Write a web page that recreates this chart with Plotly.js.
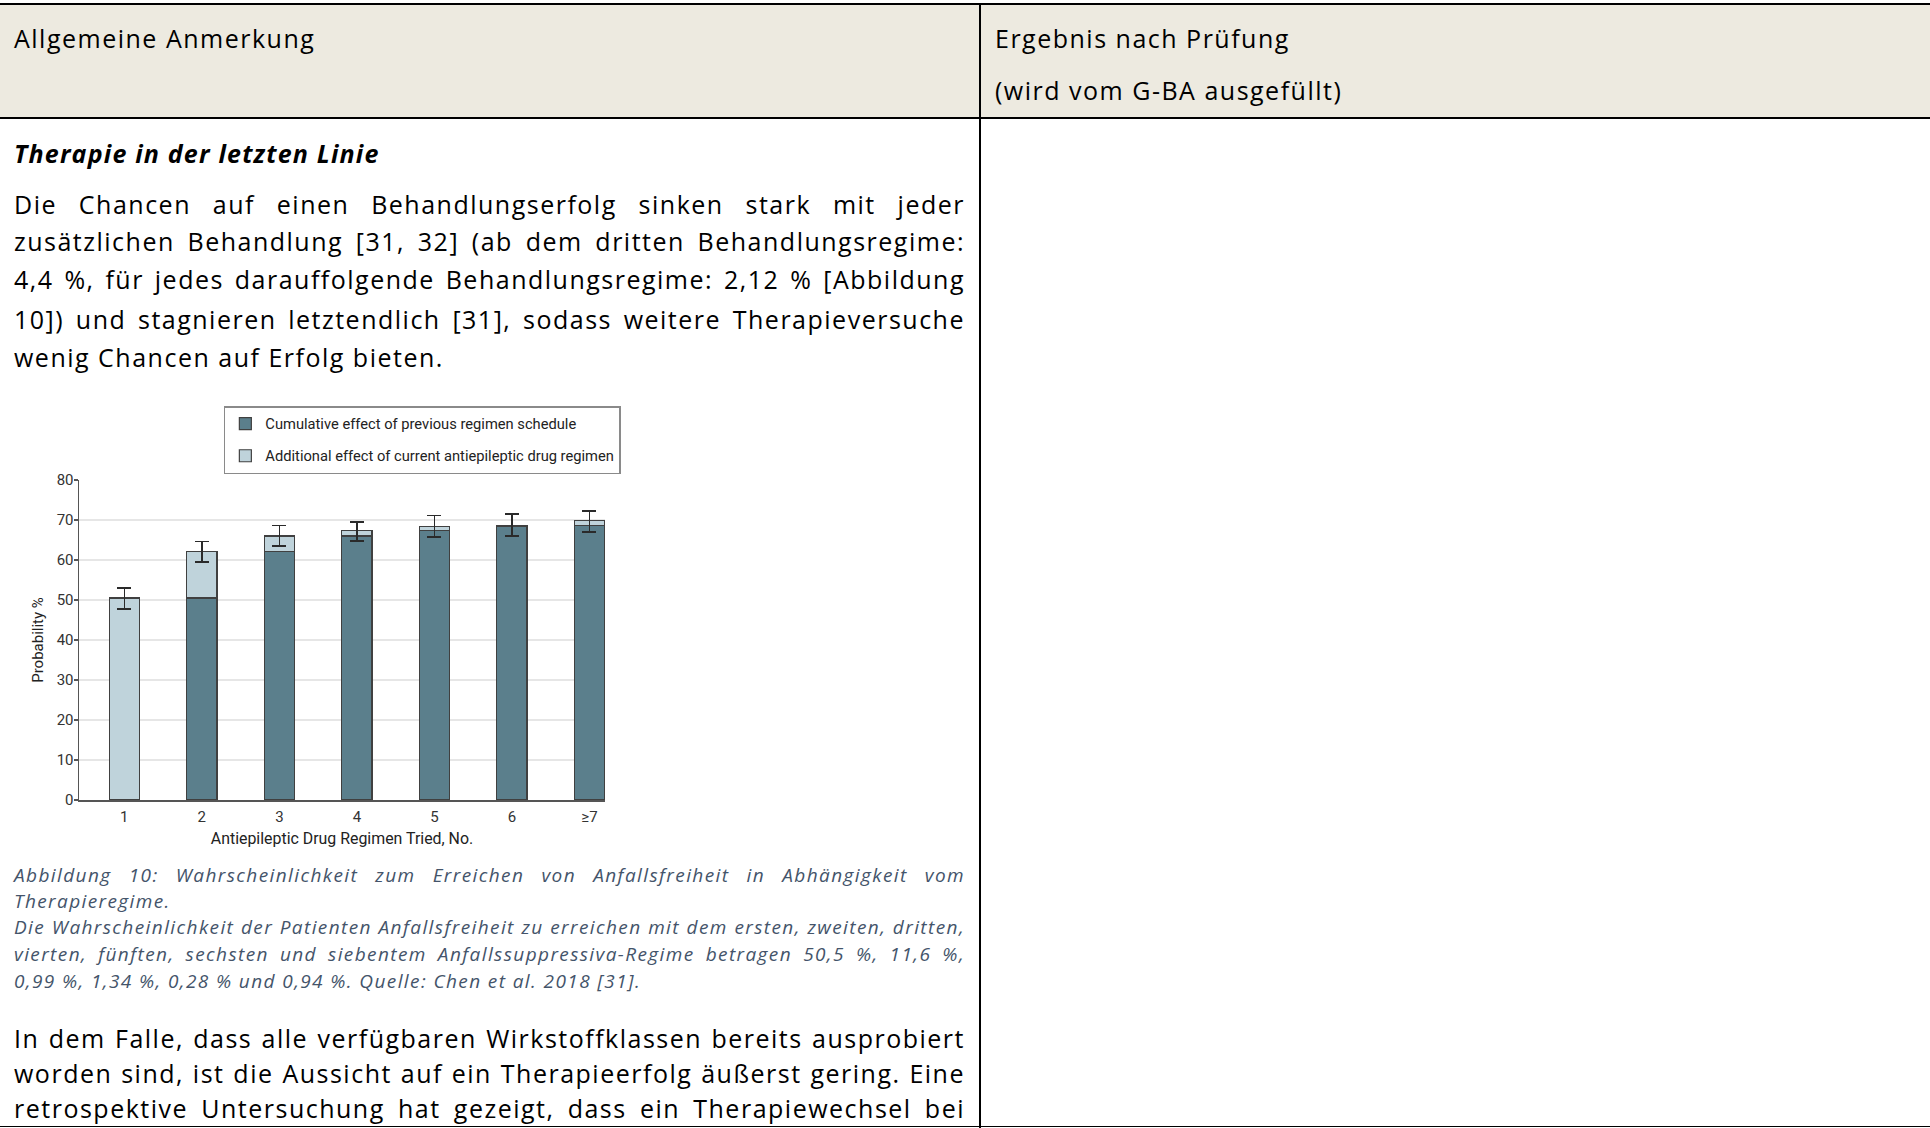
<!DOCTYPE html>
<html>
<head>
<meta charset="utf-8">
<script src="https://cdn.plot.ly/plotly-3.0.1.min.js"></script>
<style>
  html, body { margin:0; padding:0; background:#fff; }
  body { width:1930px; height:1128px; position:relative; overflow:hidden; font-family: 'Open Sans', sans-serif; color:#000; }
  .abs { position:absolute; }
  .hdr { left:0; top:3px; width:1930px; height:116px; background:#edeae0; }
  .line { position:absolute; background:#000; }
  .t { position:absolute; font-size:25px; letter-spacing:1.5px; white-space:nowrap; }
  .j { position:absolute; left:14px; width:951px; text-align:justify; text-align-last:justify; white-space:normal; }
  .l { position:absolute; left:14px; white-space:nowrap; }
  .p { font-size:25px; letter-spacing:1.5px; line-height:38px; height:38px; }
  .cap { font-size:19px; letter-spacing:1.4px; line-height:26px; height:26px; font-style:italic; color:#44546a; }
  #chart { position:absolute; left:0; top:395px; width:640px; height:460px; }
</style>
</head>
<body>
<div class="abs hdr"></div>
<div class="line" style="left:0;top:3px;width:1930px;height:2px;"></div>
<div class="line" style="left:0;top:117px;width:1930px;height:2px;"></div>
<div class="line" style="left:979px;top:3px;width:2px;height:1125px;"></div>
<div class="line" style="left:0;top:1126px;width:1930px;height:1px;"></div>

<div class="t" style="left:14px;top:20px;line-height:36px;">Allgemeine Anmerkung</div>
<div class="t" style="left:995px;top:20px;line-height:36px;">Ergebnis nach Prüfung</div>
<div class="t" style="left:995px;top:72px;line-height:36px;">(wird vom G-BA ausgefüllt)</div>

<div class="t" style="left:14px;top:135px;line-height:36px;font-weight:bold;font-style:italic;letter-spacing:1.2px;">Therapie in der letzten Linie</div>

<div class="j p" style="top:185px;">Die Chancen auf einen Behandlungserfolg sinken stark mit jeder</div>
<div class="j p" style="top:222px;">zusätzlichen Behandlung [31, 32] (ab dem dritten Behandlungsregime:</div>
<div class="j p" style="top:260px;">4,4 %, für jedes darauffolgende Behandlungsregime: 2,12 % [Abbildung</div>
<div class="j p" style="top:300px;">10]) und stagnieren letztendlich [31], sodass weitere Therapieversuche</div>
<div class="l p" style="top:338px;">wenig Chancen auf Erfolg bieten.</div>

<div id="chart"></div>

<div class="j cap" style="top:862px;">Abbildung 10: Wahrscheinlichkeit zum Erreichen von Anfallsfreiheit in Abhängigkeit vom</div>
<div class="l cap" style="top:888px;">Therapieregime.</div>
<div class="j cap" style="top:914px;">Die Wahrscheinlichkeit der Patienten Anfallsfreiheit zu erreichen mit dem ersten, zweiten, dritten,</div>
<div class="j cap" style="top:941px;">vierten, fünften, sechsten und siebentem Anfallssuppressiva-Regime betragen 50,5 %, 11,6 %,</div>
<div class="l cap" style="top:968px;">0,99 %, 1,34 %, 0,28 % und 0,94 %. Quelle: Chen et al. 2018 [31].</div>

<div class="j p" style="top:1019px;">In dem Falle, dass alle verfügbaren Wirkstoffklassen bereits ausprobiert</div>
<div class="j p" style="top:1054px;">worden sind, ist die Aussicht auf ein Therapieerfolg äußerst gering. Eine</div>
<div class="j p" style="top:1089px;">retrospektive Untersuchung hat gezeigt, dass ein Therapiewechsel bei</div>

<script>
const regimens = ["1", "2", "3", "4", "5", "6", "≥7"];
const cumulativePrev = [0, 50.5, 62.1, 66.0, 67.3, 68.3, 68.6];
const additionalCurr = [50.5, 11.6, 3.9, 1.3, 1.0, 0.3, 1.2];
const errPlus = [2.5, 2.5, 2.6, 2.2, 2.8, 2.9, 2.5];
const errMinus = [2.7, 2.6, 2.5, 2.6, 2.6, 2.6, 2.8];
const seriesNames = ["Cumulative effect of previous regimen schedule", "Additional effect of current antiepileptic drug regimen"];
const yTicks = [0, 10, 20, 30, 40, 50, 60, 70, 80];

const cf = "Roboto, 'Open Sans', sans-serif";

const traces = [
  {
    type: 'bar', x: regimens, y: cumulativePrev, name: seriesNames[0],
    legendgroup: 'a',
    marker: { color: '#5b7f8c', line: { color: '#404040', width: 1.2 } },
    width: 0.39, hoverinfo: 'skip'
  },
  {
    type: 'bar', x: regimens, y: additionalCurr, name: seriesNames[1],
    legendgroup: 'b',
    marker: { color: '#bfd3db', line: { color: '#404040', width: 1.2 } },
    width: 0.39, hoverinfo: 'skip',
    error_y: { type: 'data', symmetric: false, array: errPlus, arrayminus: errMinus,
               color: '#2a2a2a', thickness: 1.5, width: 7 }
  }
];

const layout = {
  width: 640, height: 460,
  margin: { l: 79, r: 34.5, t: 85, b: 55, autoexpand: false },
  paper_bgcolor: 'rgba(0,0,0,0)', plot_bgcolor: '#fff',
  barmode: 'stack',
  font: { family: cf, color: '#333', size: 14 },
  showlegend: true,
  legend: {
    x: 0.2754, y: 1.231, xanchor: 'left', yanchor: 'top',
    traceorder: 'grouped', tracegroupgap: 10,
    bgcolor: '#fff', bordercolor: '#8a8a8a', borderwidth: 1.5,
    font: { family: cf, size: 14.7, color: '#222' }
  },
  xaxis: {
    type: 'category', range: [-0.584, 6.2],
    showline: true, linecolor: '#555', linewidth: 1.5,
    ticks: '', showgrid: false, zeroline: false,
    ticklabelstandoff: 2,
    tickfont: { size: 15, color: '#333' },
    title: { text: 'Antiepileptic Drug Regimen Tried, No.', font: { size: 15.9, color: '#222' }, standoff: 8 }
  },
  yaxis: {
    range: [0, 80], tickvals: yTicks, ticktext: yTicks.map(String),
    showline: true, linecolor: '#555', linewidth: 1.5,
    ticks: 'outside', ticklen: 4, tickcolor: '#555', tickwidth: 1.2,
    ticklabelstandoff: -3,
    showgrid: true, gridcolor: '#e6e6e6', gridwidth: 2, zeroline: false,
    tickfont: { size: 15, color: '#333' },
    title: { text: 'Probability %', font: { size: 15, color: '#222' }, standoff: 9 }
  }
};

Plotly.newPlot('chart', traces, layout, { displayModeBar: false, staticPlot: true });
</script>
</body>
</html>
